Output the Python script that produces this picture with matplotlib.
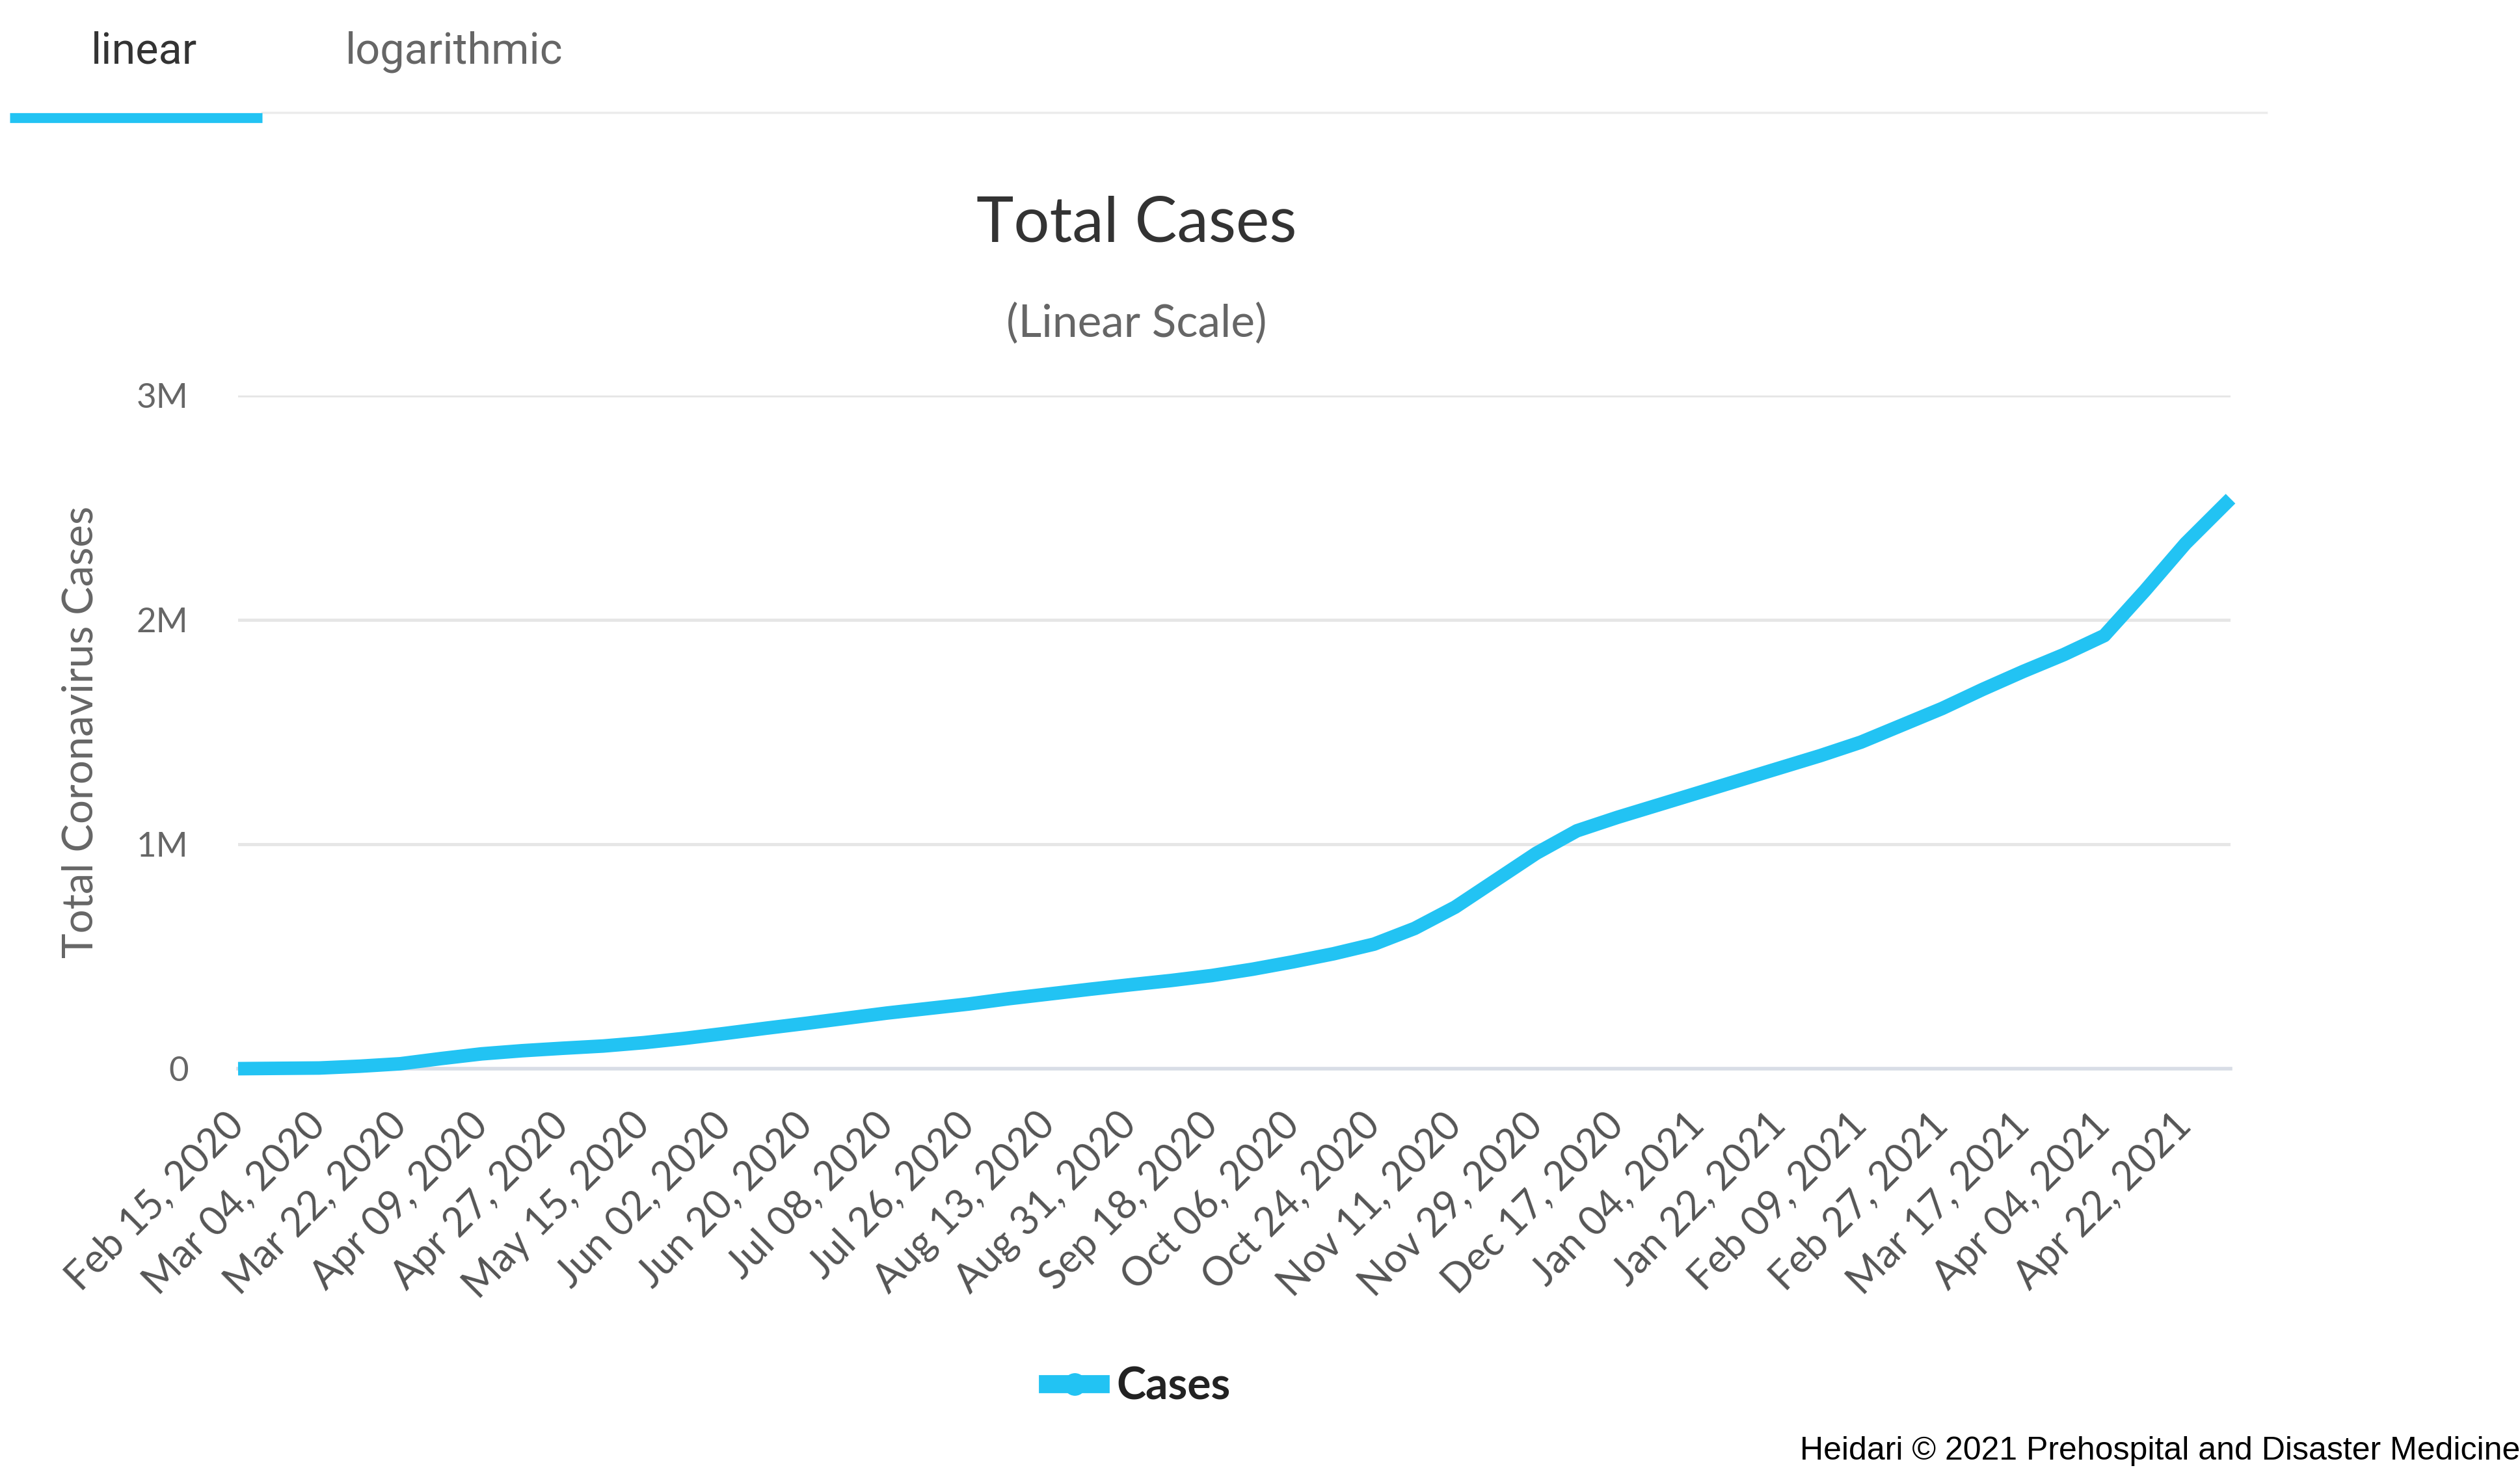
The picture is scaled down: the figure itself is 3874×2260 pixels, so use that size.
import pandas as pd
import matplotlib.pyplot as plt
from matplotlib.lines import Line2D
from matplotlib import font_manager as fm

# ===============================
# DATA
# ===============================

dates = [
    "2020-02-15", "2020-03-04", "2020-03-13", "2020-03-22", "2020-03-31",
    "2020-04-09", "2020-04-18", "2020-04-27", "2020-05-06", "2020-05-15",
    "2020-05-24", "2020-06-02", "2020-06-11", "2020-06-20", "2020-06-29",
    "2020-07-08", "2020-07-17", "2020-07-26", "2020-08-04", "2020-08-13",
    "2020-08-22", "2020-08-31", "2020-09-09", "2020-09-18", "2020-09-27",
    "2020-10-06", "2020-10-15", "2020-10-24", "2020-11-02", "2020-11-11",
    "2020-11-20", "2020-11-29", "2020-12-08", "2020-12-17", "2020-12-26",
    "2021-01-04", "2021-01-13", "2021-01-22", "2021-01-31", "2021-02-09",
    "2021-02-18", "2021-02-27", "2021-03-08", "2021-03-17", "2021-03-26",
    "2021-04-04", "2021-04-13", "2021-04-22", "2021-05-02",
]

# total cases, millions
cases_m = [
    0.000, 0.003, 0.011, 0.022, 0.045,
    0.066, 0.080, 0.091, 0.101, 0.116,
    0.135, 0.157, 0.180, 0.202, 0.225,
    0.248, 0.268, 0.288, 0.312, 0.333,
    0.354, 0.374, 0.393, 0.415, 0.443,
    0.476, 0.512, 0.555, 0.625, 0.720,
    0.840, 0.960, 1.060, 1.120, 1.175,
    1.230, 1.285, 1.340, 1.395, 1.455,
    1.530, 1.605, 1.690, 1.770, 1.845,
    1.930, 2.130, 2.340, 2.540,
]

xtick_labels = [
    "Feb 15, 2020", "Mar 04, 2020", "Mar 22, 2020", "Apr 09, 2020",
    "Apr 27, 2020", "May 15, 2020", "Jun 02, 2020", "Jun 20, 2020",
    "Jul 08, 2020", "Jul 26, 2020", "Aug 13, 2020", "Aug 31, 2020",
    "Sep 18, 2020", "Oct 06, 2020", "Oct 24, 2020", "Nov 11, 2020",
    "Nov 29, 2020", "Dec 17, 2020", "Jan 04, 2021", "Jan 22, 2021",
    "Feb 09, 2021", "Feb 27, 2021", "Mar 17, 2021", "Apr 04, 2021",
    "Apr 22, 2021",
]

yticks = [0, 1e6, 2e6, 3e6]
ytick_labels = ["0", "1M", "2M", "3M"]

# -------------------------------
# fonts
# -------------------------------
names = {f.name for f in fm.fontManager.ttflist}
credit_font = "Liberation Sans Narrow" if "Liberation Sans Narrow" in names else "Liberation Sans"
credit_size = 43 if credit_font == "Liberation Sans Narrow" else 36
chart_font = "Lato"

LINE_BLUE = "#22c3f3"

df = pd.DataFrame({"date": pd.to_datetime(dates), "cases": [v * 1e6 for v in cases_m]})
tick_dates = pd.to_datetime(xtick_labels, format="%b %d, %Y")

# ===============================
# FIGURE
# ===============================
W, H = 3874, 2260
fig = plt.figure(figsize=(W / 100, H / 100), dpi=100)

left, right, top, bottom = 366, 3429, 608, 1643
ax = fig.add_axes([left / W, 1 - bottom / H, (right - left) / W, (bottom - top) / H])

ax.plot(df["date"], df["cases"], color=LINE_BLUE, linewidth=15,
        solid_joinstyle="round", solid_capstyle="butt", clip_on=False, zorder=3)

ax.set_xlim(df["date"].min(), df["date"].max())
ax.set_ylim(0, 3e6)

ax.set_yticks(yticks)
ax.set_yticklabels(ytick_labels, fontsize=38, color="#666666", family=chart_font)
ax.set_xticks(tick_dates)
ax.set_xticklabels(xtick_labels, rotation=45, ha="right", va="center",
                   rotation_mode="anchor", fontsize=44, color="#555555", family=chart_font)

ax.tick_params(axis="y", length=0, pad=55)
ax.tick_params(axis="x", length=0, pad=56)

ax.grid(axis="y", color="#e6e6e6", linewidth=3.5)
ax.set_axisbelow(True)
for s in ["top", "right", "left"]:
    ax.spines[s].set_visible(False)
ax.spines["bottom"].set_color("#d8dde6")
ax.spines["bottom"].set_linewidth(4)

ax.set_ylabel("Total Coronavirus Cases", fontsize=47, color="#666666", family=chart_font)
ax.yaxis.set_label_coords(-0.0695, 0.5)

# titles
fig.text(0.451, 1 - 345 / H, "Total Cases", ha="center", va="center",
         fontsize=70, color="#333333", family=chart_font)
fig.text(0.451, 1 - 497 / H, "(Linear Scale)", ha="center", va="center",
         fontsize=50, color="#666666", family=chart_font)

# tabs on top
fig.text(222 / W, 1 - 80 / H, "linear", ha="center", va="center",
         fontsize=48, color="#333333", family="Roboto")
fig.text(698 / W, 1 - 80 / H, "logarithmic", ha="center", va="center",
         fontsize=48, color="#666666", family="Roboto")
fig.add_artist(Line2D([403 / W, 3484 / W], [1 - 173 / H, 1 - 173 / H],
                      color="#ececec", linewidth=2.5))
fig.add_artist(Line2D([15 / W, 403 / W], [1 - 181 / H, 1 - 181 / H],
                      color=LINE_BLUE, linewidth=11, solid_capstyle="butt"))

# legend
handle = Line2D([], [], color=LINE_BLUE, linewidth=20, marker="o", markersize=24,
                markerfacecolor=LINE_BLUE, markeredgecolor=LINE_BLUE)
leg = fig.legend([handle], ["Cases"], loc="center", bbox_to_anchor=(0.452, 1 - 2132 / H),
                 frameon=False, handlelength=1.2, handletextpad=0.35,
                 prop={"family": chart_font, "weight": "bold", "size": 49})
for t in leg.get_texts():
    t.set_color("#222222")

# credit line
fig.text(1.0, 1 - 2231 / H, "Heidari \u00a9 2021 Prehospital and Disaster Medicine",
         ha="right", va="center", fontsize=credit_size, color="black", family=credit_font)

fig.savefig("out.png", dpi=100, facecolor="white")
